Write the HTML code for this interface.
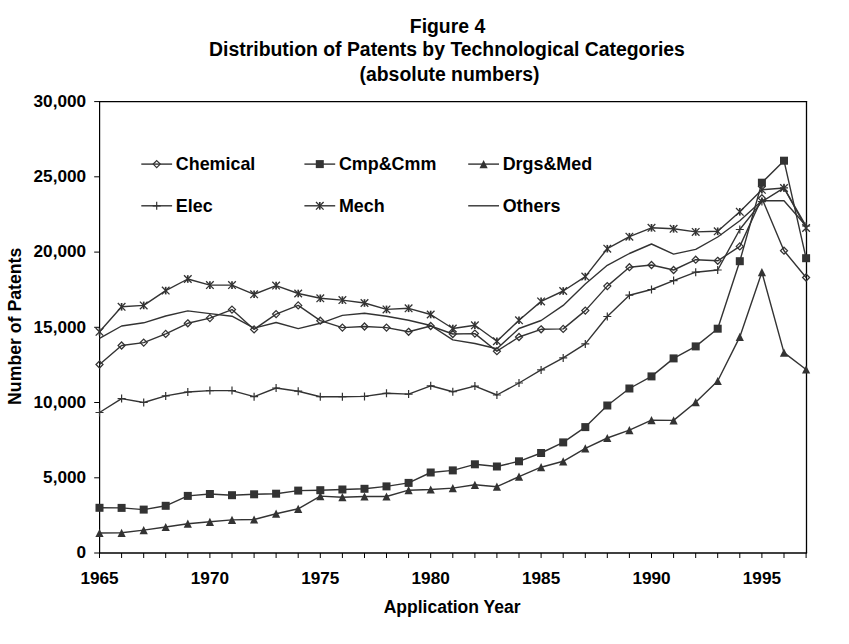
<!DOCTYPE html>
<html><head><meta charset="utf-8"><style>
html,body{margin:0;padding:0;background:#fff;width:849px;height:644px;overflow:hidden}
svg{display:block}
text{font-family:"Liberation Sans",sans-serif;font-weight:bold}
</style></head><body>
<svg width="849" height="644" viewBox="0 0 849 644">
<g font-family="Liberation Sans, sans-serif" font-weight="bold" fill="#000">
<text x="447.5" y="32.6" text-anchor="middle" font-size="19.4">Figure 4</text>
<text x="447" y="56.2" text-anchor="middle" font-size="19.4">Distribution of Patents by Technological Categories</text>
<text x="449.5" y="81.1" text-anchor="middle" font-size="19.4">(absolute numbers)</text>
<g font-size="17.2"><text x="86.1" y="558.3" text-anchor="end">0</text><text x="86.1" y="483.1" text-anchor="end">5,000</text><text x="86.1" y="407.8" text-anchor="end">10,000</text><text x="86.1" y="332.6" text-anchor="end">15,000</text><text x="86.1" y="257.4" text-anchor="end">20,000</text><text x="86.1" y="182.1" text-anchor="end">25,000</text><text x="86.1" y="106.9" text-anchor="end">30,000</text><text x="99.5" y="584.0" text-anchor="middle">1965</text><text x="209.9" y="584.0" text-anchor="middle">1970</text><text x="320.3" y="584.0" text-anchor="middle">1975</text><text x="430.7" y="584.0" text-anchor="middle">1980</text><text x="541.1" y="584.0" text-anchor="middle">1985</text><text x="651.5" y="584.0" text-anchor="middle">1990</text><text x="761.9" y="584.0" text-anchor="middle">1995</text></g><g font-size="17.7">
<text x="452.1" y="613.1" text-anchor="middle" font-size="17.5">Application Year</text>
<text transform="translate(20.8,326.3) rotate(-90)" text-anchor="middle">Number of Patents</text>
</g>
<g font-size="17.9"><path d="M141.3 164.1H172.1" stroke="#333" stroke-width="1.4"/><path d="M156.7 160.6L160.2 164.1L156.7 167.6L153.2 164.1Z" fill="none" stroke="#333" stroke-width="1.25"/><text x="175.8" y="169.8">Chemical</text><path d="M304.4 164.1H335.2" stroke="#333" stroke-width="1.4"/><rect x="315.8" y="160.1" width="8" height="8" fill="#333"/><text x="338.9" y="169.8">Cmp&amp;Cmm</text><path d="M468.2 164.1H499.0" stroke="#333" stroke-width="1.4"/><path d="M483.6 160.0L487.7 168.2L479.5 168.2Z" fill="#333"/><text x="502.7" y="169.8">Drgs&amp;Med</text><path d="M141.3 205.8H172.1" stroke="#333" stroke-width="1.4"/><path d="M152.7 205.8H160.7M156.7 201.8V209.8" stroke="#333" stroke-width="1.2"/><text x="175.8" y="211.5">Elec</text><path d="M304.4 205.8H335.2" stroke="#333" stroke-width="1.4"/><path d="M319.8 202.0V209.6" stroke="#333" stroke-width="1.7"/><path d="M316.0 202.0L323.6 209.6M323.6 202.0L316.0 209.6" stroke="#333" stroke-width="1.3"/><text x="338.9" y="211.5">Mech</text><path d="M468.2 205.8H499.0" stroke="#333" stroke-width="1.4"/><text x="502.7" y="211.5">Others</text></g>
</g>
<path d="M99 101.6H807.1" fill="none" stroke="#000" stroke-width="1.4"/><path d="M806.5 101V553.0" fill="none" stroke="#000" stroke-width="1.3"/><path d="M99.6 101V553.0" fill="none" stroke="#000" stroke-width="1.2"/><path d="M99 553.0H807.1" fill="none" stroke="#000" stroke-width="1.7"/><path d="M94.2 553.0H99.5M94.2 477.8H99.5M94.2 402.5H99.5M94.2 327.3H99.5M94.2 252.1H99.5M94.2 176.8H99.5M94.2 101.6H99.5M99.5 553.0V558M121.6 553.0V558M143.7 553.0V558M165.7 553.0V558M187.8 553.0V558M209.9 553.0V558M232.0 553.0V558M254.1 553.0V558M276.1 553.0V558M298.2 553.0V558M320.3 553.0V558M342.4 553.0V558M364.5 553.0V558M386.5 553.0V558M408.6 553.0V558M430.7 553.0V558M452.8 553.0V558M474.9 553.0V558M496.9 553.0V558M519.0 553.0V558M541.1 553.0V558M563.2 553.0V558M585.3 553.0V558M607.3 553.0V558M629.4 553.0V558M651.5 553.0V558M673.6 553.0V558M695.7 553.0V558M717.7 553.0V558M739.8 553.0V558M761.9 553.0V558M784.0 553.0V558M806.1 553.0V558" stroke="#000" stroke-width="1"/>
<polyline points="99.5,338.4 121.6,326.0 143.7,322.8 165.7,316.0 187.8,310.9 209.9,313.6 232.0,316.2 254.1,328.1 276.1,322.5 298.2,328.6 320.3,323.3 342.4,315.4 364.5,313.3 386.5,316.2 408.6,320.2 430.7,325.5 452.8,339.9 474.9,343.5 496.9,348.8 519.0,328.5 541.1,320.5 563.2,305.4 585.3,284.0 607.3,265.3 629.4,253.5 651.5,244.0 673.6,254.1 695.7,249.4 717.7,237.0 739.8,220.7 761.9,200.8 784.0,200.7 806.1,226.0" fill="none" stroke="#333" stroke-width="1.4" stroke-linejoin="round"/><polyline points="99.5,331.8 121.6,306.8 143.7,305.4 165.7,290.6 187.8,279.0 209.9,285.1 232.0,285.1 254.1,294.3 276.1,285.6 298.2,293.5 320.3,298.3 342.4,300.1 364.5,303.0 386.5,309.4 408.6,308.3 430.7,314.5 452.8,328.5 474.9,325.3 496.9,341.2 519.0,320.3 541.1,301.4 563.2,291.0 585.3,276.6 607.3,248.7 629.4,236.7 651.5,227.8 673.6,228.8 695.7,231.9 717.7,231.3 739.8,211.8 761.9,189.8 784.0,188.0 806.1,228.0" fill="none" stroke="#333" stroke-width="1.4" stroke-linejoin="round"/><polyline points="99.5,412.5 121.6,398.6 143.7,402.5 165.7,395.9 187.8,392.0 209.9,390.6 232.0,390.6 254.1,396.7 276.1,388.0 298.2,391.2 320.3,396.7 342.4,396.7 364.5,396.4 386.5,393.3 408.6,394.1 430.7,385.8 452.8,391.7 474.9,386.1 496.9,395.0 519.0,383.0 541.1,369.9 563.2,357.9 585.3,343.9 607.3,316.5 629.4,295.2 651.5,289.5 673.6,280.6 695.7,272.2 717.7,270.0 739.8,229.5 761.9,201.6 784.0,187.8 806.1,226.0" fill="none" stroke="#333" stroke-width="1.4" stroke-linejoin="round"/><polyline points="99.5,364.5 121.6,345.5 143.7,342.6 165.7,333.9 187.8,323.3 209.9,318.1 232.0,309.6 254.1,329.4 276.1,314.1 298.2,305.4 320.3,320.7 342.4,327.6 364.5,326.5 386.5,327.6 408.6,331.8 430.7,326.0 452.8,334.0 474.9,333.6 496.9,351.2 519.0,337.0 541.1,329.3 563.2,328.9 585.3,310.6 607.3,286.1 629.4,267.2 651.5,265.0 673.6,270.0 695.7,259.7 717.7,260.8 739.8,246.4 761.9,198.2 784.0,250.7 806.1,277.5" fill="none" stroke="#333" stroke-width="1.4" stroke-linejoin="round"/><polyline points="99.5,507.8 121.6,507.9 143.7,509.6 165.7,505.8 187.8,495.9 209.9,494.0 232.0,495.2 254.1,494.3 276.1,493.7 298.2,490.6 320.3,490.2 342.4,489.5 364.5,488.8 386.5,486.4 408.6,482.9 430.7,472.5 452.8,470.4 474.9,464.3 496.9,466.5 519.0,461.3 541.1,453.0 563.2,442.4 585.3,427.1 607.3,405.5 629.4,388.5 651.5,376.4 673.6,358.4 695.7,346.4 717.7,328.7 739.8,261.2 761.9,182.7 784.0,160.7 806.1,258.2" fill="none" stroke="#333" stroke-width="1.4" stroke-linejoin="round"/><polyline points="99.5,533.0 121.6,532.8 143.7,530.1 165.7,527.0 187.8,523.7 209.9,521.8 232.0,519.9 254.1,519.5 276.1,513.7 298.2,508.8 320.3,496.1 342.4,497.2 364.5,496.5 386.5,496.5 408.6,490.2 430.7,489.5 452.8,488.1 474.9,484.8 496.9,486.7 519.0,476.6 541.1,467.2 563.2,461.3 585.3,448.3 607.3,438.0 629.4,430.2 651.5,420.1 673.6,420.4 695.7,402.2 717.7,381.0 739.8,336.9 761.9,272.2 784.0,352.6 806.1,369.5" fill="none" stroke="#333" stroke-width="1.4" stroke-linejoin="round"/><path d="M99.5 361.0L103.0 364.5L99.5 368.0L96.0 364.5Z" fill="none" stroke="#333" stroke-width="1.25"/><path d="M121.6 342.0L125.1 345.5L121.6 349.0L118.1 345.5Z" fill="none" stroke="#333" stroke-width="1.25"/><path d="M143.7 339.1L147.2 342.6L143.7 346.1L140.2 342.6Z" fill="none" stroke="#333" stroke-width="1.25"/><path d="M165.7 330.4L169.2 333.9L165.7 337.4L162.2 333.9Z" fill="none" stroke="#333" stroke-width="1.25"/><path d="M187.8 319.8L191.3 323.3L187.8 326.8L184.3 323.3Z" fill="none" stroke="#333" stroke-width="1.25"/><path d="M209.9 314.6L213.4 318.1L209.9 321.6L206.4 318.1Z" fill="none" stroke="#333" stroke-width="1.25"/><path d="M232.0 306.1L235.5 309.6L232.0 313.1L228.5 309.6Z" fill="none" stroke="#333" stroke-width="1.25"/><path d="M254.1 325.9L257.6 329.4L254.1 332.9L250.6 329.4Z" fill="none" stroke="#333" stroke-width="1.25"/><path d="M276.1 310.6L279.6 314.1L276.1 317.6L272.6 314.1Z" fill="none" stroke="#333" stroke-width="1.25"/><path d="M298.2 301.9L301.7 305.4L298.2 308.9L294.7 305.4Z" fill="none" stroke="#333" stroke-width="1.25"/><path d="M320.3 317.2L323.8 320.7L320.3 324.2L316.8 320.7Z" fill="none" stroke="#333" stroke-width="1.25"/><path d="M342.4 324.1L345.9 327.6L342.4 331.1L338.9 327.6Z" fill="none" stroke="#333" stroke-width="1.25"/><path d="M364.5 323.0L368.0 326.5L364.5 330.0L361.0 326.5Z" fill="none" stroke="#333" stroke-width="1.25"/><path d="M386.5 324.1L390.0 327.6L386.5 331.1L383.0 327.6Z" fill="none" stroke="#333" stroke-width="1.25"/><path d="M408.6 328.3L412.1 331.8L408.6 335.3L405.1 331.8Z" fill="none" stroke="#333" stroke-width="1.25"/><path d="M430.7 322.5L434.2 326.0L430.7 329.5L427.2 326.0Z" fill="none" stroke="#333" stroke-width="1.25"/><path d="M452.8 330.5L456.3 334.0L452.8 337.5L449.3 334.0Z" fill="none" stroke="#333" stroke-width="1.25"/><path d="M474.9 330.1L478.4 333.6L474.9 337.1L471.4 333.6Z" fill="none" stroke="#333" stroke-width="1.25"/><path d="M496.9 347.7L500.4 351.2L496.9 354.7L493.4 351.2Z" fill="none" stroke="#333" stroke-width="1.25"/><path d="M519.0 333.5L522.5 337.0L519.0 340.5L515.5 337.0Z" fill="none" stroke="#333" stroke-width="1.25"/><path d="M541.1 325.8L544.6 329.3L541.1 332.8L537.6 329.3Z" fill="none" stroke="#333" stroke-width="1.25"/><path d="M563.2 325.4L566.7 328.9L563.2 332.4L559.7 328.9Z" fill="none" stroke="#333" stroke-width="1.25"/><path d="M585.3 307.1L588.8 310.6L585.3 314.1L581.8 310.6Z" fill="none" stroke="#333" stroke-width="1.25"/><path d="M607.3 282.6L610.8 286.1L607.3 289.6L603.8 286.1Z" fill="none" stroke="#333" stroke-width="1.25"/><path d="M629.4 263.7L632.9 267.2L629.4 270.7L625.9 267.2Z" fill="none" stroke="#333" stroke-width="1.25"/><path d="M651.5 261.5L655.0 265.0L651.5 268.5L648.0 265.0Z" fill="none" stroke="#333" stroke-width="1.25"/><path d="M673.6 266.5L677.1 270.0L673.6 273.5L670.1 270.0Z" fill="none" stroke="#333" stroke-width="1.25"/><path d="M695.7 256.2L699.2 259.7L695.7 263.2L692.2 259.7Z" fill="none" stroke="#333" stroke-width="1.25"/><path d="M717.7 257.3L721.2 260.8L717.7 264.3L714.2 260.8Z" fill="none" stroke="#333" stroke-width="1.25"/><path d="M739.8 242.9L743.3 246.4L739.8 249.9L736.3 246.4Z" fill="none" stroke="#333" stroke-width="1.25"/><path d="M761.9 194.7L765.4 198.2L761.9 201.7L758.4 198.2Z" fill="none" stroke="#333" stroke-width="1.25"/><path d="M784.0 247.2L787.5 250.7L784.0 254.2L780.5 250.7Z" fill="none" stroke="#333" stroke-width="1.25"/><path d="M806.1 274.0L809.6 277.5L806.1 281.0L802.6 277.5Z" fill="none" stroke="#333" stroke-width="1.25"/><rect x="95.5" y="503.8" width="8" height="8" fill="#333"/><rect x="117.6" y="503.9" width="8" height="8" fill="#333"/><rect x="139.7" y="505.6" width="8" height="8" fill="#333"/><rect x="161.7" y="501.8" width="8" height="8" fill="#333"/><rect x="183.8" y="491.9" width="8" height="8" fill="#333"/><rect x="205.9" y="490.0" width="8" height="8" fill="#333"/><rect x="228.0" y="491.2" width="8" height="8" fill="#333"/><rect x="250.1" y="490.3" width="8" height="8" fill="#333"/><rect x="272.1" y="489.7" width="8" height="8" fill="#333"/><rect x="294.2" y="486.6" width="8" height="8" fill="#333"/><rect x="316.3" y="486.2" width="8" height="8" fill="#333"/><rect x="338.4" y="485.5" width="8" height="8" fill="#333"/><rect x="360.5" y="484.8" width="8" height="8" fill="#333"/><rect x="382.5" y="482.4" width="8" height="8" fill="#333"/><rect x="404.6" y="478.9" width="8" height="8" fill="#333"/><rect x="426.7" y="468.5" width="8" height="8" fill="#333"/><rect x="448.8" y="466.4" width="8" height="8" fill="#333"/><rect x="470.9" y="460.3" width="8" height="8" fill="#333"/><rect x="492.9" y="462.5" width="8" height="8" fill="#333"/><rect x="515.0" y="457.3" width="8" height="8" fill="#333"/><rect x="537.1" y="449.0" width="8" height="8" fill="#333"/><rect x="559.2" y="438.4" width="8" height="8" fill="#333"/><rect x="581.3" y="423.1" width="8" height="8" fill="#333"/><rect x="603.3" y="401.5" width="8" height="8" fill="#333"/><rect x="625.4" y="384.5" width="8" height="8" fill="#333"/><rect x="647.5" y="372.4" width="8" height="8" fill="#333"/><rect x="669.6" y="354.4" width="8" height="8" fill="#333"/><rect x="691.7" y="342.4" width="8" height="8" fill="#333"/><rect x="713.7" y="324.7" width="8" height="8" fill="#333"/><rect x="735.8" y="257.2" width="8" height="8" fill="#333"/><rect x="757.9" y="178.7" width="8" height="8" fill="#333"/><rect x="780.0" y="156.7" width="8" height="8" fill="#333"/><rect x="802.1" y="254.2" width="8" height="8" fill="#333"/><path d="M99.5 528.9L103.6 537.1L95.4 537.1Z" fill="#333"/><path d="M121.6 528.7L125.7 536.9L117.5 536.9Z" fill="#333"/><path d="M143.7 526.0L147.8 534.2L139.6 534.2Z" fill="#333"/><path d="M165.7 522.9L169.8 531.1L161.6 531.1Z" fill="#333"/><path d="M187.8 519.6L191.9 527.8L183.7 527.8Z" fill="#333"/><path d="M209.9 517.7L214.0 525.9L205.8 525.9Z" fill="#333"/><path d="M232.0 515.8L236.1 524.0L227.9 524.0Z" fill="#333"/><path d="M254.1 515.4L258.2 523.6L250.0 523.6Z" fill="#333"/><path d="M276.1 509.6L280.2 517.8L272.0 517.8Z" fill="#333"/><path d="M298.2 504.7L302.3 512.9L294.1 512.9Z" fill="#333"/><path d="M320.3 492.0L324.4 500.2L316.2 500.2Z" fill="#333"/><path d="M342.4 493.1L346.5 501.3L338.3 501.3Z" fill="#333"/><path d="M364.5 492.4L368.6 500.6L360.4 500.6Z" fill="#333"/><path d="M386.5 492.4L390.6 500.6L382.4 500.6Z" fill="#333"/><path d="M408.6 486.1L412.7 494.3L404.5 494.3Z" fill="#333"/><path d="M430.7 485.4L434.8 493.6L426.6 493.6Z" fill="#333"/><path d="M452.8 484.0L456.9 492.2L448.7 492.2Z" fill="#333"/><path d="M474.9 480.7L479.0 488.9L470.8 488.9Z" fill="#333"/><path d="M496.9 482.6L501.0 490.8L492.8 490.8Z" fill="#333"/><path d="M519.0 472.5L523.1 480.7L514.9 480.7Z" fill="#333"/><path d="M541.1 463.1L545.2 471.3L537.0 471.3Z" fill="#333"/><path d="M563.2 457.2L567.3 465.4L559.1 465.4Z" fill="#333"/><path d="M585.3 444.2L589.4 452.4L581.2 452.4Z" fill="#333"/><path d="M607.3 433.9L611.4 442.1L603.2 442.1Z" fill="#333"/><path d="M629.4 426.1L633.5 434.3L625.3 434.3Z" fill="#333"/><path d="M651.5 416.0L655.6 424.2L647.4 424.2Z" fill="#333"/><path d="M673.6 416.3L677.7 424.5L669.5 424.5Z" fill="#333"/><path d="M695.7 398.1L699.8 406.3L691.6 406.3Z" fill="#333"/><path d="M717.7 376.9L721.8 385.1L713.6 385.1Z" fill="#333"/><path d="M739.8 332.8L743.9 341.0L735.7 341.0Z" fill="#333"/><path d="M761.9 268.1L766.0 276.3L757.8 276.3Z" fill="#333"/><path d="M784.0 348.5L788.1 356.7L779.9 356.7Z" fill="#333"/><path d="M806.1 365.4L810.2 373.6L802.0 373.6Z" fill="#333"/><path d="M95.5 412.5H103.5M99.5 408.5V416.5" stroke="#333" stroke-width="1.2"/><path d="M117.6 398.6H125.6M121.6 394.6V402.6" stroke="#333" stroke-width="1.2"/><path d="M139.7 402.5H147.7M143.7 398.5V406.5" stroke="#333" stroke-width="1.2"/><path d="M161.7 395.9H169.7M165.7 391.9V399.9" stroke="#333" stroke-width="1.2"/><path d="M183.8 392.0H191.8M187.8 388.0V396.0" stroke="#333" stroke-width="1.2"/><path d="M205.9 390.6H213.9M209.9 386.6V394.6" stroke="#333" stroke-width="1.2"/><path d="M228.0 390.6H236.0M232.0 386.6V394.6" stroke="#333" stroke-width="1.2"/><path d="M250.1 396.7H258.1M254.1 392.7V400.7" stroke="#333" stroke-width="1.2"/><path d="M272.1 388.0H280.1M276.1 384.0V392.0" stroke="#333" stroke-width="1.2"/><path d="M294.2 391.2H302.2M298.2 387.2V395.2" stroke="#333" stroke-width="1.2"/><path d="M316.3 396.7H324.3M320.3 392.7V400.7" stroke="#333" stroke-width="1.2"/><path d="M338.4 396.7H346.4M342.4 392.7V400.7" stroke="#333" stroke-width="1.2"/><path d="M360.5 396.4H368.5M364.5 392.4V400.4" stroke="#333" stroke-width="1.2"/><path d="M382.5 393.3H390.5M386.5 389.3V397.3" stroke="#333" stroke-width="1.2"/><path d="M404.6 394.1H412.6M408.6 390.1V398.1" stroke="#333" stroke-width="1.2"/><path d="M426.7 385.8H434.7M430.7 381.8V389.8" stroke="#333" stroke-width="1.2"/><path d="M448.8 391.7H456.8M452.8 387.7V395.7" stroke="#333" stroke-width="1.2"/><path d="M470.9 386.1H478.9M474.9 382.1V390.1" stroke="#333" stroke-width="1.2"/><path d="M492.9 395.0H500.9M496.9 391.0V399.0" stroke="#333" stroke-width="1.2"/><path d="M515.0 383.0H523.0M519.0 379.0V387.0" stroke="#333" stroke-width="1.2"/><path d="M537.1 369.9H545.1M541.1 365.9V373.9" stroke="#333" stroke-width="1.2"/><path d="M559.2 357.9H567.2M563.2 353.9V361.9" stroke="#333" stroke-width="1.2"/><path d="M581.3 343.9H589.3M585.3 339.9V347.9" stroke="#333" stroke-width="1.2"/><path d="M603.3 316.5H611.3M607.3 312.5V320.5" stroke="#333" stroke-width="1.2"/><path d="M625.4 295.2H633.4M629.4 291.2V299.2" stroke="#333" stroke-width="1.2"/><path d="M647.5 289.5H655.5M651.5 285.5V293.5" stroke="#333" stroke-width="1.2"/><path d="M669.6 280.6H677.6M673.6 276.6V284.6" stroke="#333" stroke-width="1.2"/><path d="M691.7 272.2H699.7M695.7 268.2V276.2" stroke="#333" stroke-width="1.2"/><path d="M713.7 270.0H721.7M717.7 266.0V274.0" stroke="#333" stroke-width="1.2"/><path d="M735.8 229.5H743.8M739.8 225.5V233.5" stroke="#333" stroke-width="1.2"/><path d="M757.9 201.6H765.9M761.9 197.6V205.6" stroke="#333" stroke-width="1.2"/><path d="M780.0 187.8H788.0M784.0 183.8V191.8" stroke="#333" stroke-width="1.2"/><path d="M802.1 226.0H810.1M806.1 222.0V230.0" stroke="#333" stroke-width="1.2"/><path d="M99.5 328.0V335.6" stroke="#333" stroke-width="1.7"/><path d="M95.7 328.0L103.3 335.6M103.3 328.0L95.7 335.6" stroke="#333" stroke-width="1.3"/><path d="M121.6 303.0V310.6" stroke="#333" stroke-width="1.7"/><path d="M117.8 303.0L125.4 310.6M125.4 303.0L117.8 310.6" stroke="#333" stroke-width="1.3"/><path d="M143.7 301.6V309.2" stroke="#333" stroke-width="1.7"/><path d="M139.9 301.6L147.5 309.2M147.5 301.6L139.9 309.2" stroke="#333" stroke-width="1.3"/><path d="M165.7 286.8V294.4" stroke="#333" stroke-width="1.7"/><path d="M161.9 286.8L169.5 294.4M169.5 286.8L161.9 294.4" stroke="#333" stroke-width="1.3"/><path d="M187.8 275.2V282.8" stroke="#333" stroke-width="1.7"/><path d="M184.0 275.2L191.6 282.8M191.6 275.2L184.0 282.8" stroke="#333" stroke-width="1.3"/><path d="M209.9 281.3V288.9" stroke="#333" stroke-width="1.7"/><path d="M206.1 281.3L213.7 288.9M213.7 281.3L206.1 288.9" stroke="#333" stroke-width="1.3"/><path d="M232.0 281.3V288.9" stroke="#333" stroke-width="1.7"/><path d="M228.2 281.3L235.8 288.9M235.8 281.3L228.2 288.9" stroke="#333" stroke-width="1.3"/><path d="M254.1 290.5V298.1" stroke="#333" stroke-width="1.7"/><path d="M250.3 290.5L257.9 298.1M257.9 290.5L250.3 298.1" stroke="#333" stroke-width="1.3"/><path d="M276.1 281.8V289.4" stroke="#333" stroke-width="1.7"/><path d="M272.3 281.8L279.9 289.4M279.9 281.8L272.3 289.4" stroke="#333" stroke-width="1.3"/><path d="M298.2 289.7V297.3" stroke="#333" stroke-width="1.7"/><path d="M294.4 289.7L302.0 297.3M302.0 289.7L294.4 297.3" stroke="#333" stroke-width="1.3"/><path d="M320.3 294.5V302.1" stroke="#333" stroke-width="1.7"/><path d="M316.5 294.5L324.1 302.1M324.1 294.5L316.5 302.1" stroke="#333" stroke-width="1.3"/><path d="M342.4 296.3V303.9" stroke="#333" stroke-width="1.7"/><path d="M338.6 296.3L346.2 303.9M346.2 296.3L338.6 303.9" stroke="#333" stroke-width="1.3"/><path d="M364.5 299.2V306.8" stroke="#333" stroke-width="1.7"/><path d="M360.7 299.2L368.3 306.8M368.3 299.2L360.7 306.8" stroke="#333" stroke-width="1.3"/><path d="M386.5 305.6V313.2" stroke="#333" stroke-width="1.7"/><path d="M382.7 305.6L390.3 313.2M390.3 305.6L382.7 313.2" stroke="#333" stroke-width="1.3"/><path d="M408.6 304.5V312.1" stroke="#333" stroke-width="1.7"/><path d="M404.8 304.5L412.4 312.1M412.4 304.5L404.8 312.1" stroke="#333" stroke-width="1.3"/><path d="M430.7 310.7V318.3" stroke="#333" stroke-width="1.7"/><path d="M426.9 310.7L434.5 318.3M434.5 310.7L426.9 318.3" stroke="#333" stroke-width="1.3"/><path d="M452.8 324.7V332.3" stroke="#333" stroke-width="1.7"/><path d="M449.0 324.7L456.6 332.3M456.6 324.7L449.0 332.3" stroke="#333" stroke-width="1.3"/><path d="M474.9 321.5V329.1" stroke="#333" stroke-width="1.7"/><path d="M471.1 321.5L478.7 329.1M478.7 321.5L471.1 329.1" stroke="#333" stroke-width="1.3"/><path d="M496.9 337.4V345.0" stroke="#333" stroke-width="1.7"/><path d="M493.1 337.4L500.7 345.0M500.7 337.4L493.1 345.0" stroke="#333" stroke-width="1.3"/><path d="M519.0 316.5V324.1" stroke="#333" stroke-width="1.7"/><path d="M515.2 316.5L522.8 324.1M522.8 316.5L515.2 324.1" stroke="#333" stroke-width="1.3"/><path d="M541.1 297.6V305.2" stroke="#333" stroke-width="1.7"/><path d="M537.3 297.6L544.9 305.2M544.9 297.6L537.3 305.2" stroke="#333" stroke-width="1.3"/><path d="M563.2 287.2V294.8" stroke="#333" stroke-width="1.7"/><path d="M559.4 287.2L567.0 294.8M567.0 287.2L559.4 294.8" stroke="#333" stroke-width="1.3"/><path d="M585.3 272.8V280.4" stroke="#333" stroke-width="1.7"/><path d="M581.5 272.8L589.1 280.4M589.1 272.8L581.5 280.4" stroke="#333" stroke-width="1.3"/><path d="M607.3 244.9V252.5" stroke="#333" stroke-width="1.7"/><path d="M603.5 244.9L611.1 252.5M611.1 244.9L603.5 252.5" stroke="#333" stroke-width="1.3"/><path d="M629.4 232.9V240.5" stroke="#333" stroke-width="1.7"/><path d="M625.6 232.9L633.2 240.5M633.2 232.9L625.6 240.5" stroke="#333" stroke-width="1.3"/><path d="M651.5 224.0V231.6" stroke="#333" stroke-width="1.7"/><path d="M647.7 224.0L655.3 231.6M655.3 224.0L647.7 231.6" stroke="#333" stroke-width="1.3"/><path d="M673.6 225.0V232.6" stroke="#333" stroke-width="1.7"/><path d="M669.8 225.0L677.4 232.6M677.4 225.0L669.8 232.6" stroke="#333" stroke-width="1.3"/><path d="M695.7 228.1V235.7" stroke="#333" stroke-width="1.7"/><path d="M691.9 228.1L699.5 235.7M699.5 228.1L691.9 235.7" stroke="#333" stroke-width="1.3"/><path d="M717.7 227.5V235.1" stroke="#333" stroke-width="1.7"/><path d="M713.9 227.5L721.5 235.1M721.5 227.5L713.9 235.1" stroke="#333" stroke-width="1.3"/><path d="M739.8 208.0V215.6" stroke="#333" stroke-width="1.7"/><path d="M736.0 208.0L743.6 215.6M743.6 208.0L736.0 215.6" stroke="#333" stroke-width="1.3"/><path d="M761.9 186.0V193.6" stroke="#333" stroke-width="1.7"/><path d="M758.1 186.0L765.7 193.6M765.7 186.0L758.1 193.6" stroke="#333" stroke-width="1.3"/><path d="M784.0 184.2V191.8" stroke="#333" stroke-width="1.7"/><path d="M780.2 184.2L787.8 191.8M787.8 184.2L780.2 191.8" stroke="#333" stroke-width="1.3"/><path d="M806.1 224.2V231.8" stroke="#333" stroke-width="1.7"/><path d="M802.3 224.2L809.9 231.8M809.9 224.2L802.3 231.8" stroke="#333" stroke-width="1.3"/>
</svg>
</body></html>
